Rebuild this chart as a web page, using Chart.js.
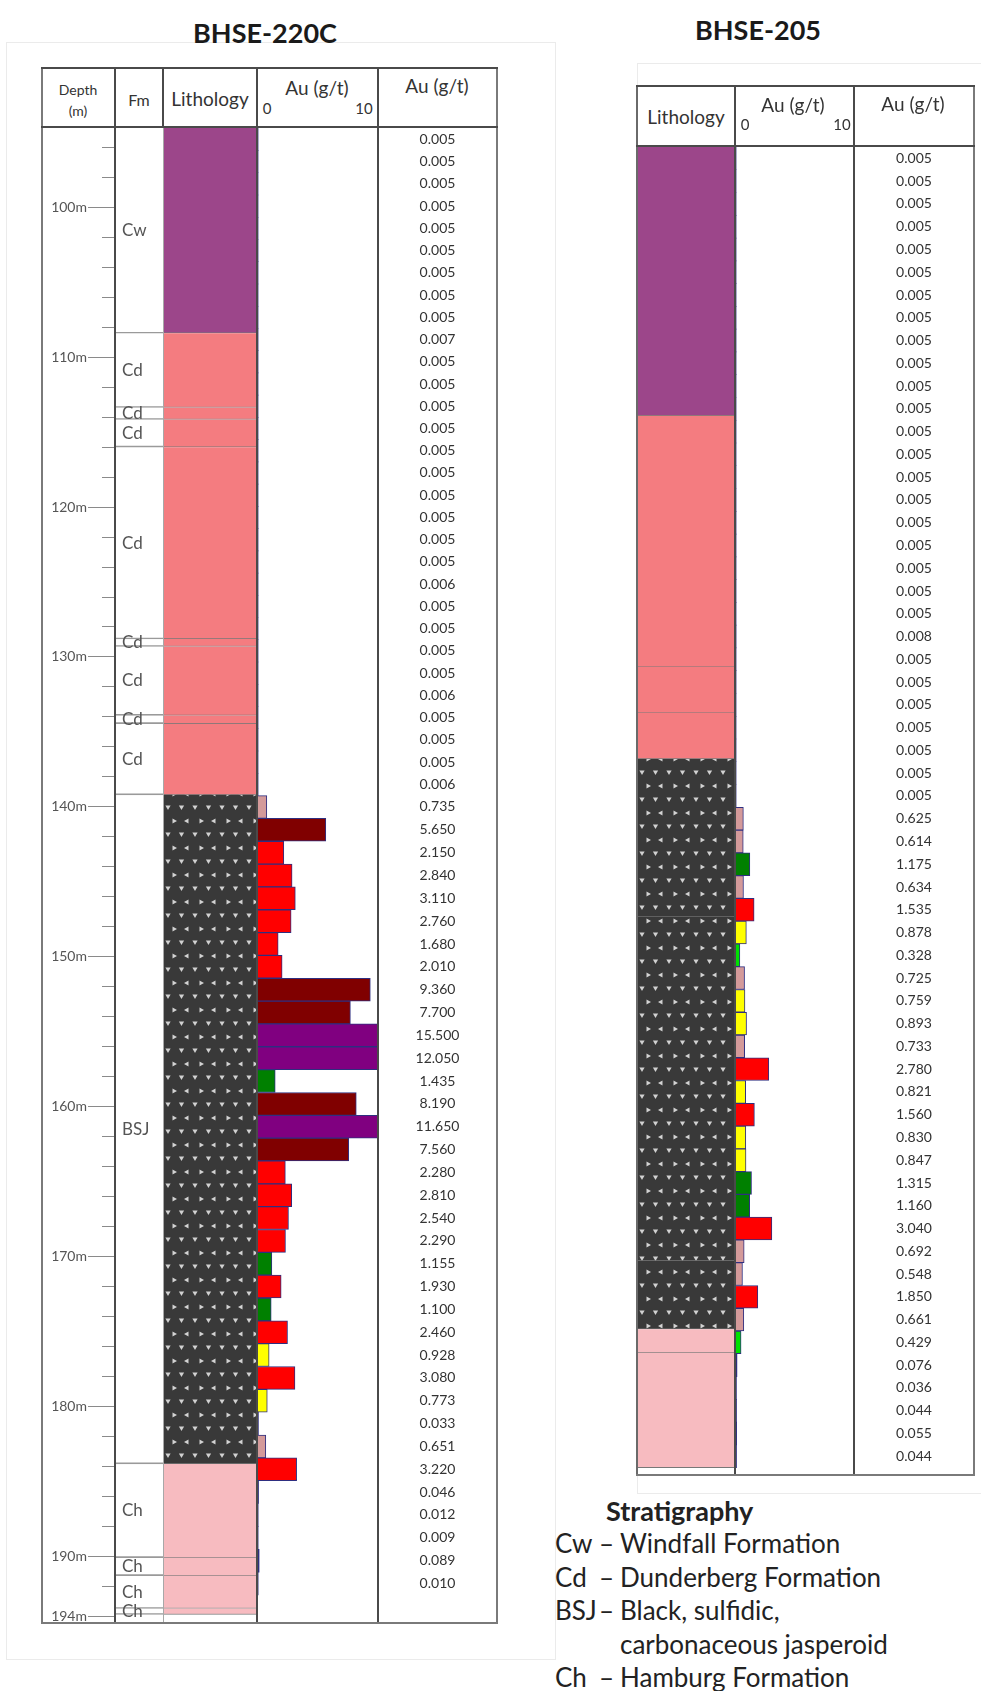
<!DOCTYPE html>
<html>
<head>
<meta charset="utf-8">
<title>BHSE-220C / BHSE-205 gold assays</title>
<script src="https://cdn.jsdelivr.net/npm/chart.js@4.4.0/dist/chart.umd.min.js"></script>
<style>
  body { margin: 0; background: #fff; font-family: Lato, sans-serif; color: #222; }
  #page { position: relative; width: 981px; height: 1691px; overflow: hidden; }
  .frame { position: absolute; border: 1px solid #ebebeb; }
  .title { position: absolute; font-weight: bold; font-size: 27px; transform: translate(-50%, -50%); white-space: nowrap; color: #1a1a1a; }
  .hd { position: absolute; transform: translate(-50%, -50%); white-space: nowrap; color: #333; }
  .line { position: absolute; background: #4a4a4a; }
  canvas { position: absolute; }
  .lg { position: absolute; font-size: 26px; white-space: nowrap; transform: translateY(-50%); color: #222; }
</style>
</head>
<body>
<div id="page"></div>
<script>
// ---- BHSE-220C (depth in m) ----
const fm220Top  = [94.7, 108.4, 113.35, 114.15, 116.0, 128.8, 129.3, 133.9, 134.45, 139.2, 183.85, 190.1, 191.3, 193.5];
const fm220Base = [108.4, 113.35, 114.15, 116.0, 128.8, 129.3, 133.9, 134.45, 139.2, 183.85, 190.1, 191.3, 193.5, 193.9];
const fm220Name = ['Cw', 'Cd', 'Cd', 'Cd', 'Cd', 'Cd', 'Cd', 'Cd', 'Cd', 'BSJ', 'Ch', 'Ch', 'Ch', 'Ch'];

const sample220From = [94.70, 96.20, 97.69, 99.17, 100.66, 102.14, 103.62, 105.11, 106.59, 108.08,
  109.56, 111.04, 112.53, 114.01, 115.50, 116.98, 118.46, 119.95, 121.43, 122.92,
  124.40, 125.88, 127.37, 128.85, 130.34, 131.82, 133.30, 134.79, 136.27, 137.76,
  139.25, 140.77, 142.30, 143.82, 145.35, 146.87, 148.39, 149.92, 151.44, 152.97,
  154.49, 156.01, 157.54, 159.06, 160.59, 162.11, 163.63, 165.16, 166.68, 168.21,
  169.73, 171.25, 172.78, 174.30, 175.83, 177.35, 178.87, 180.40, 181.92, 183.45,
  184.97, 186.49, 188.02, 189.54, 191.07];
const sample220Base = 192.59;
const au220 = [0.005, 0.005, 0.005, 0.005, 0.005, 0.005, 0.005, 0.005, 0.005, 0.007,
  0.005, 0.005, 0.005, 0.005, 0.005, 0.005, 0.005, 0.005, 0.005, 0.005,
  0.006, 0.005, 0.005, 0.005, 0.005, 0.006, 0.005, 0.005, 0.005, 0.006,
  0.735, 5.650, 2.150, 2.840, 3.110, 2.760, 1.680, 2.010, 9.360, 7.700,
  15.500, 12.050, 1.435, 8.190, 11.650, 7.560, 2.280, 2.810, 2.540, 2.290,
  1.155, 1.930, 1.100, 2.460, 0.928, 3.080, 0.773, 0.033, 0.651, 3.220,
  0.046, 0.012, 0.009, 0.089, 0.010];
const depth220Min = 94.7, depth220Max = 194.4;
const minorTicks220 = [96, 98, 100, 102, 104, 106, 108, 110, 112, 114, 116, 118, 120, 122, 124, 126, 128, 130,
  132, 134, 136, 138, 140, 142, 144, 146, 148, 150, 152, 154, 156, 158, 160, 162, 164, 166, 168, 170,
  172, 174, 176, 178, 180, 182, 184, 186, 188, 190, 192, 194];
const majorTicks220 = [100, 110, 120, 130, 140, 150, 160, 170, 180, 190, 194];

// ---- BHSE-205 (depth in ft below top of log) ----
const lith205Top  = [0, 59, 114.2, 124.3, 134.4, 169, 244.6, 259.6, 264.8];
const lith205Base = [59, 114.2, 124.3, 134.4, 169, 244.6, 259.6, 264.8, 290];
const lith205Unit = ['Cw', 'Cd', 'Cd', 'Cd', 'BSJ', 'BSJ', 'BSJ', 'Ch', 'Ch'];
const sample205From = [0, 5, 10, 15, 20, 25, 30, 35, 40, 45, 50, 55, 60, 65, 70, 75, 80, 85, 90, 95,
  100, 105, 110, 115, 120, 125, 130, 135, 140, 145, 150, 155, 160, 165, 170, 175, 180, 185, 190, 195,
  200, 205, 210, 215, 220, 225, 230, 235, 240, 245, 250, 255, 260, 265, 270, 275, 280, 285];
const sample205Base = 290;
const au205 = [0.005, 0.005, 0.005, 0.005, 0.005, 0.005, 0.005, 0.005, 0.005, 0.005,
  0.005, 0.005, 0.005, 0.005, 0.005, 0.005, 0.005, 0.005, 0.005, 0.005,
  0.005, 0.008, 0.005, 0.005, 0.005, 0.005, 0.005, 0.005, 0.005,
  0.625, 0.614, 1.175, 0.634, 1.535, 0.878, 0.328, 0.725, 0.759, 0.893,
  0.733, 2.780, 0.821, 1.560, 0.830, 0.847, 1.315, 1.160, 3.040, 0.692,
  0.548, 1.850, 0.661, 0.429, 0.076, 0.036, 0.044, 0.055, 0.044];
const depth205Min = 0, depth205Max = 291.4;

const legendRows = [
  ['Cw', 'Windfall Formation'],
  ['Cd', 'Dunderberg Formation'],
  ['BSJ', 'Black, sulfidic,'],
  ['', 'carbonaceous jasperoid'],
  ['Ch', 'Hamburg Formation']
];

// ---------------------------------------------------------------
const page = document.getElementById('page');

function bsjPattern() {
  const c = document.createElement('canvas');
  c.width = 27; c.height = 27;
  const g = c.getContext('2d');
  g.fillStyle = '#393939';
  g.fillRect(0, 0, 27, 27);
  g.fillStyle = '#d2d2d2';
  const tri = (pts) => { g.beginPath(); g.moveTo(pts[0], pts[1]); g.lineTo(pts[2], pts[3]); g.lineTo(pts[4], pts[5]); g.closePath(); g.fill(); };
  [5, 18.5].forEach(x => tri([x - 2.6, 2.5, x + 2.6, 2.5, x, 7]));
  tri([9.5, 15.5, 9.5, 20.5, 14, 18]);
  tri([25.5, 15.5, 25.5, 20.5, 21, 18]);
  return g.createPattern(c, 'repeat');
}
const unitFill = { Cw: '#9c468a', Cd: '#f47c80', BSJ: bsjPattern(), Ch: '#f7bbc0' };

function auColour(v) {
  if (v >= 10) return '#800080';
  if (v >= 5) return '#800000';
  if (v >= 1.5) return '#ff0000';
  if (v >= 1.0) return '#008000';
  if (v >= 0.75) return '#ffff00';
  if (v >= 0.5) return '#d49a9a';
  if (v >= 0.1) return '#00e000';
  return '#2e2e80';
}

function addDiv(cls, css, text) {
  const d = document.createElement('div');
  d.className = cls;
  Object.assign(d.style, css);
  if (text !== undefined) d.textContent = text;
  page.appendChild(d);
  return d;
}
function vline(x, y1, y2, w, col) { addDiv('line', { left: (x - w / 2) + 'px', top: y1 + 'px', width: w + 'px', height: (y2 - y1) + 'px', background: col || '#4a4a4a' }); }
function hline(y, x1, x2, w, col) { addDiv('line', { left: x1 + 'px', top: (y - w / 2) + 'px', width: (x2 - x1) + 'px', height: w + 'px', background: col || '#4a4a4a' }); }
function hd(x, y, size, text) { addDiv('hd', { left: x + 'px', top: y + 'px', fontSize: size + 'px' }, text); }

function makeCanvas(left, top, w, h) {
  const c = document.createElement('canvas');
  c.width = w; c.height = h;
  c.style.left = left + 'px'; c.style.top = top + 'px';
  c.style.width = w + 'px'; c.style.height = h + 'px';
  page.appendChild(c);
  return c;
}

const baseOptions = {
  responsive: false,
  maintainAspectRatio: false,
  animation: false,
  layout: { padding: 0 },
  plugins: { legend: { display: false }, tooltip: { enabled: false } }
};
function depthAxis(min, max) {
  return { type: 'linear', min, max, reverse: true, display: false, offset: false };
}
function mids(from, base) {
  return from.map((f, i) => (f + (i + 1 < from.length ? from[i + 1] : base)) / 2);
}

function lithologyChart(canvas, tops, bases, units, min, max) {
  return new Chart(canvas, {
    type: 'bar',
    data: {
      labels: ['Lithology'],
      datasets: [{
        data: tops.map((t, i) => ({ x: 'Lithology', y: [t, bases[i]] })),
        backgroundColor: ctx => unitFill[units[ctx.dataIndex]] || '#ffffff',
        borderColor: 'rgba(30,30,30,0.6)',
        borderWidth: { top: 0, bottom: 1, left: 0, right: 0 },
        borderSkipped: false,
        barPercentage: 1,
        categoryPercentage: 1
      }]
    },
    options: { ...baseOptions, scales: { x: { display: false }, y: depthAxis(min, max) } }
  });
}

function auBarChart(canvas, from, base, values, min, max) {
  const m = mids(from, base);
  return new Chart(canvas, {
    type: 'bar',
    data: {
      datasets: [{
        data: values.map((v, i) => ({ x: v, y: m[i] })),
        backgroundColor: ctx => auColour(ctx.raw ? ctx.raw.x : 0),
        borderColor: '#2e2e80',
        borderWidth: ctx => (ctx.raw && ctx.raw.x >= 0.1 ? 1 : 0),
        barThickness: 'flex',
        barPercentage: 1,
        categoryPercentage: 1,
        clip: 0
      }]
    },
    options: {
      ...baseOptions,
      indexAxis: 'y',
      scales: { x: { type: 'linear', min: 0, max: 10, display: false }, y: depthAxis(min, max) }
    }
  });
}

const valueTextPlugin = {
  id: 'valueText',
  afterDatasetsDraw(chart) {
    const ctx = chart.ctx;
    const meta = chart.getDatasetMeta(0);
    ctx.save();
    ctx.font = '14px Lato';
    ctx.fillStyle = '#333';
    ctx.textAlign = 'center';
    ctx.textBaseline = 'middle';
    meta.data.forEach((pt, i) => ctx.fillText(chart.data.datasets[0].data[i].v.toFixed(3), pt.x, pt.y));
    ctx.restore();
  }
};
function valueChart(canvas, from, base, values, min, max) {
  const m = mids(from, base);
  return new Chart(canvas, {
    type: 'scatter',
    data: { datasets: [{ data: values.map((v, i) => ({ x: 0, y: m[i], v })), pointRadius: 0 }] },
    options: {
      ...baseOptions,
      scales: { x: { type: 'linear', min: -1, max: 1, display: false }, y: depthAxis(min, max) }
    },
    plugins: [valueTextPlugin]
  });
}

const fmLabelPlugin = {
  id: 'fmLabels',
  afterDatasetsDraw(chart) {
    const { ctx, chartArea } = chart;
    const meta = chart.getDatasetMeta(0);
    ctx.save();
    ctx.font = '17px Lato';
    ctx.fillStyle = '#555';
    ctx.textBaseline = 'middle';
    meta.data.forEach((bar, i) => ctx.fillText(fm220Name[i], chartArea.left + 7, (bar.y + bar.base) / 2));
    ctx.restore();
  }
};

// ---------------- figure frames & titles ----------------
addDiv('frame', { left: '6px', top: '42px', width: '548px', height: '1616px' });
addDiv('frame', { left: '637px', top: '63px', width: '350px', height: '1429px' });
addDiv('title', { left: '265px', top: '32px' }, 'BHSE-220C');
addDiv('title', { left: '758px', top: '29px' }, 'BHSE-205');

// ---------------- BHSE-220C ----------------
const L = { top: 68, head: 127, bottom: 1623 };
const bodyTop = 128, bodyH = 1494;

new Chart(makeCanvas(42, bodyTop, 121, bodyH), {
  type: 'bar',
  data: {
    labels: ['Fm'],
    datasets: [{
      data: fm220Top.map((t, i) => ({ x: 'Fm', y: [t, fm220Base[i]] })),
      backgroundColor: 'rgba(0,0,0,0)',
      borderColor: '#9a9a9a',
      borderWidth: { top: 0, bottom: 1, left: 0, right: 0 },
      borderSkipped: false,
      barPercentage: 1,
      categoryPercentage: 1
    }]
  },
  options: {
    ...baseOptions,
    scales: {
      x: { display: false },
      y: {
        type: 'linear', min: depth220Min, max: depth220Max, reverse: true, position: 'left', weight: 0, offset: false,
        afterBuildTicks: s => { s.ticks = minorTicks220.map(v => ({ value: v })); },
        afterFit: s => { s.width = 13; s.paddingTop = 0; s.paddingBottom = 0; },
        ticks: { display: false },
        grid: { drawOnChartArea: false, tickLength: 13, tickColor: '#8a8a8a', tickWidth: 1 },
        border: { display: false }
      },
      yMaj: {
        axis: 'y', type: 'linear', min: depth220Min, max: depth220Max, reverse: true, position: 'left', weight: 1, offset: false,
        afterBuildTicks: s => { s.ticks = majorTicks220.map(v => ({ value: v })); },
        afterFit: s => { s.width = 60; s.paddingTop = 0; s.paddingBottom = 0; },
        ticks: { callback: v => v + 'm', padding: 1, color: '#555', font: { family: 'Lato', size: 14 }, autoSkip: false },
        grid: { drawOnChartArea: false, tickLength: 14, tickColor: '#8a8a8a', tickWidth: 1 },
        border: { display: false }
      }
    }
  },
  plugins: [fmLabelPlugin]
});
lithologyChart(makeCanvas(163, bodyTop, 94, bodyH), fm220Top, fm220Base, fm220Name, depth220Min, depth220Max);
auBarChart(makeCanvas(258, bodyTop, 120, bodyH), sample220From, sample220Base, au220, depth220Min, depth220Max);
valueChart(makeCanvas(378, bodyTop, 119, bodyH), sample220From, sample220Base, au220, depth220Min, depth220Max);

// grid lines of the log table
vline(42, L.top, L.bottom, 2, '#7a7a7a');
vline(115, L.top, L.bottom, 2);
vline(163, L.top, L.head, 2);
vline(163, L.head, L.bottom, 1, '#a8a8a8');
vline(257, L.top, L.bottom, 2);
vline(378, L.top, L.bottom, 2);
vline(497, L.top, L.bottom, 2, '#7a7a7a');
hline(L.top, 41, 498, 2);
hline(L.head, 41, 498, 2);
hline(L.bottom, 41, 498, 2, '#7a7a7a');

hd(78, 89, 14, 'Depth');
hd(78, 110, 14, '(m)');
hd(139, 99, 16, 'Fm');
hd(210, 98, 19, 'Lithology');
hd(317, 87, 19, 'Au (g/t)');
hd(267, 108, 15, '0');
hd(364, 108, 15, '10');
hd(437, 85, 19, 'Au (g/t)');

// ---------------- BHSE-205 ----------------
const R = { top: 86, head: 146, bottom: 1475 };
const rTop = 147, rH = 1327;
lithologyChart(makeCanvas(637, rTop, 98, rH), lith205Top, lith205Base, lith205Unit, depth205Min, depth205Max);
auBarChart(makeCanvas(736, rTop, 118, rH), sample205From, sample205Base, au205, depth205Min, depth205Max);
valueChart(makeCanvas(854, rTop, 120, rH), sample205From, sample205Base, au205, depth205Min, depth205Max);

vline(637, R.top, R.bottom, 2, '#6a6a6a');
vline(735, R.top, R.bottom, 2);
vline(854, R.top, R.bottom, 2);
vline(974, R.top, R.bottom, 2, '#7a7a7a');
hline(R.top, 636, 975, 2);
hline(R.head, 636, 975, 2);
hline(R.bottom, 636, 975, 2, '#7a7a7a');

hd(686, 116, 19, 'Lithology');
hd(793, 104, 19, 'Au (g/t)');
hd(745, 124, 15, '0');
hd(842, 124, 15, '10');
hd(913, 103, 19, 'Au (g/t)');

// ---------------- stratigraphy legend ----------------
addDiv('lg', { left: '606px', top: '1510px', fontWeight: 'bold', fontSize: '27px' }, 'Stratigraphy');
legendRows.forEach((row, i) => {
  const y = 1543 + i * 33.5;
  if (row[0]) {
    addDiv('lg', { left: '555px', top: y + 'px' }, row[0]);
    addDiv('lg', { left: '599px', top: y + 'px' }, '\u2013');
  }
  addDiv('lg', { left: '620px', top: y + 'px' }, row[1]);
});
</script>
</body>
</html>
